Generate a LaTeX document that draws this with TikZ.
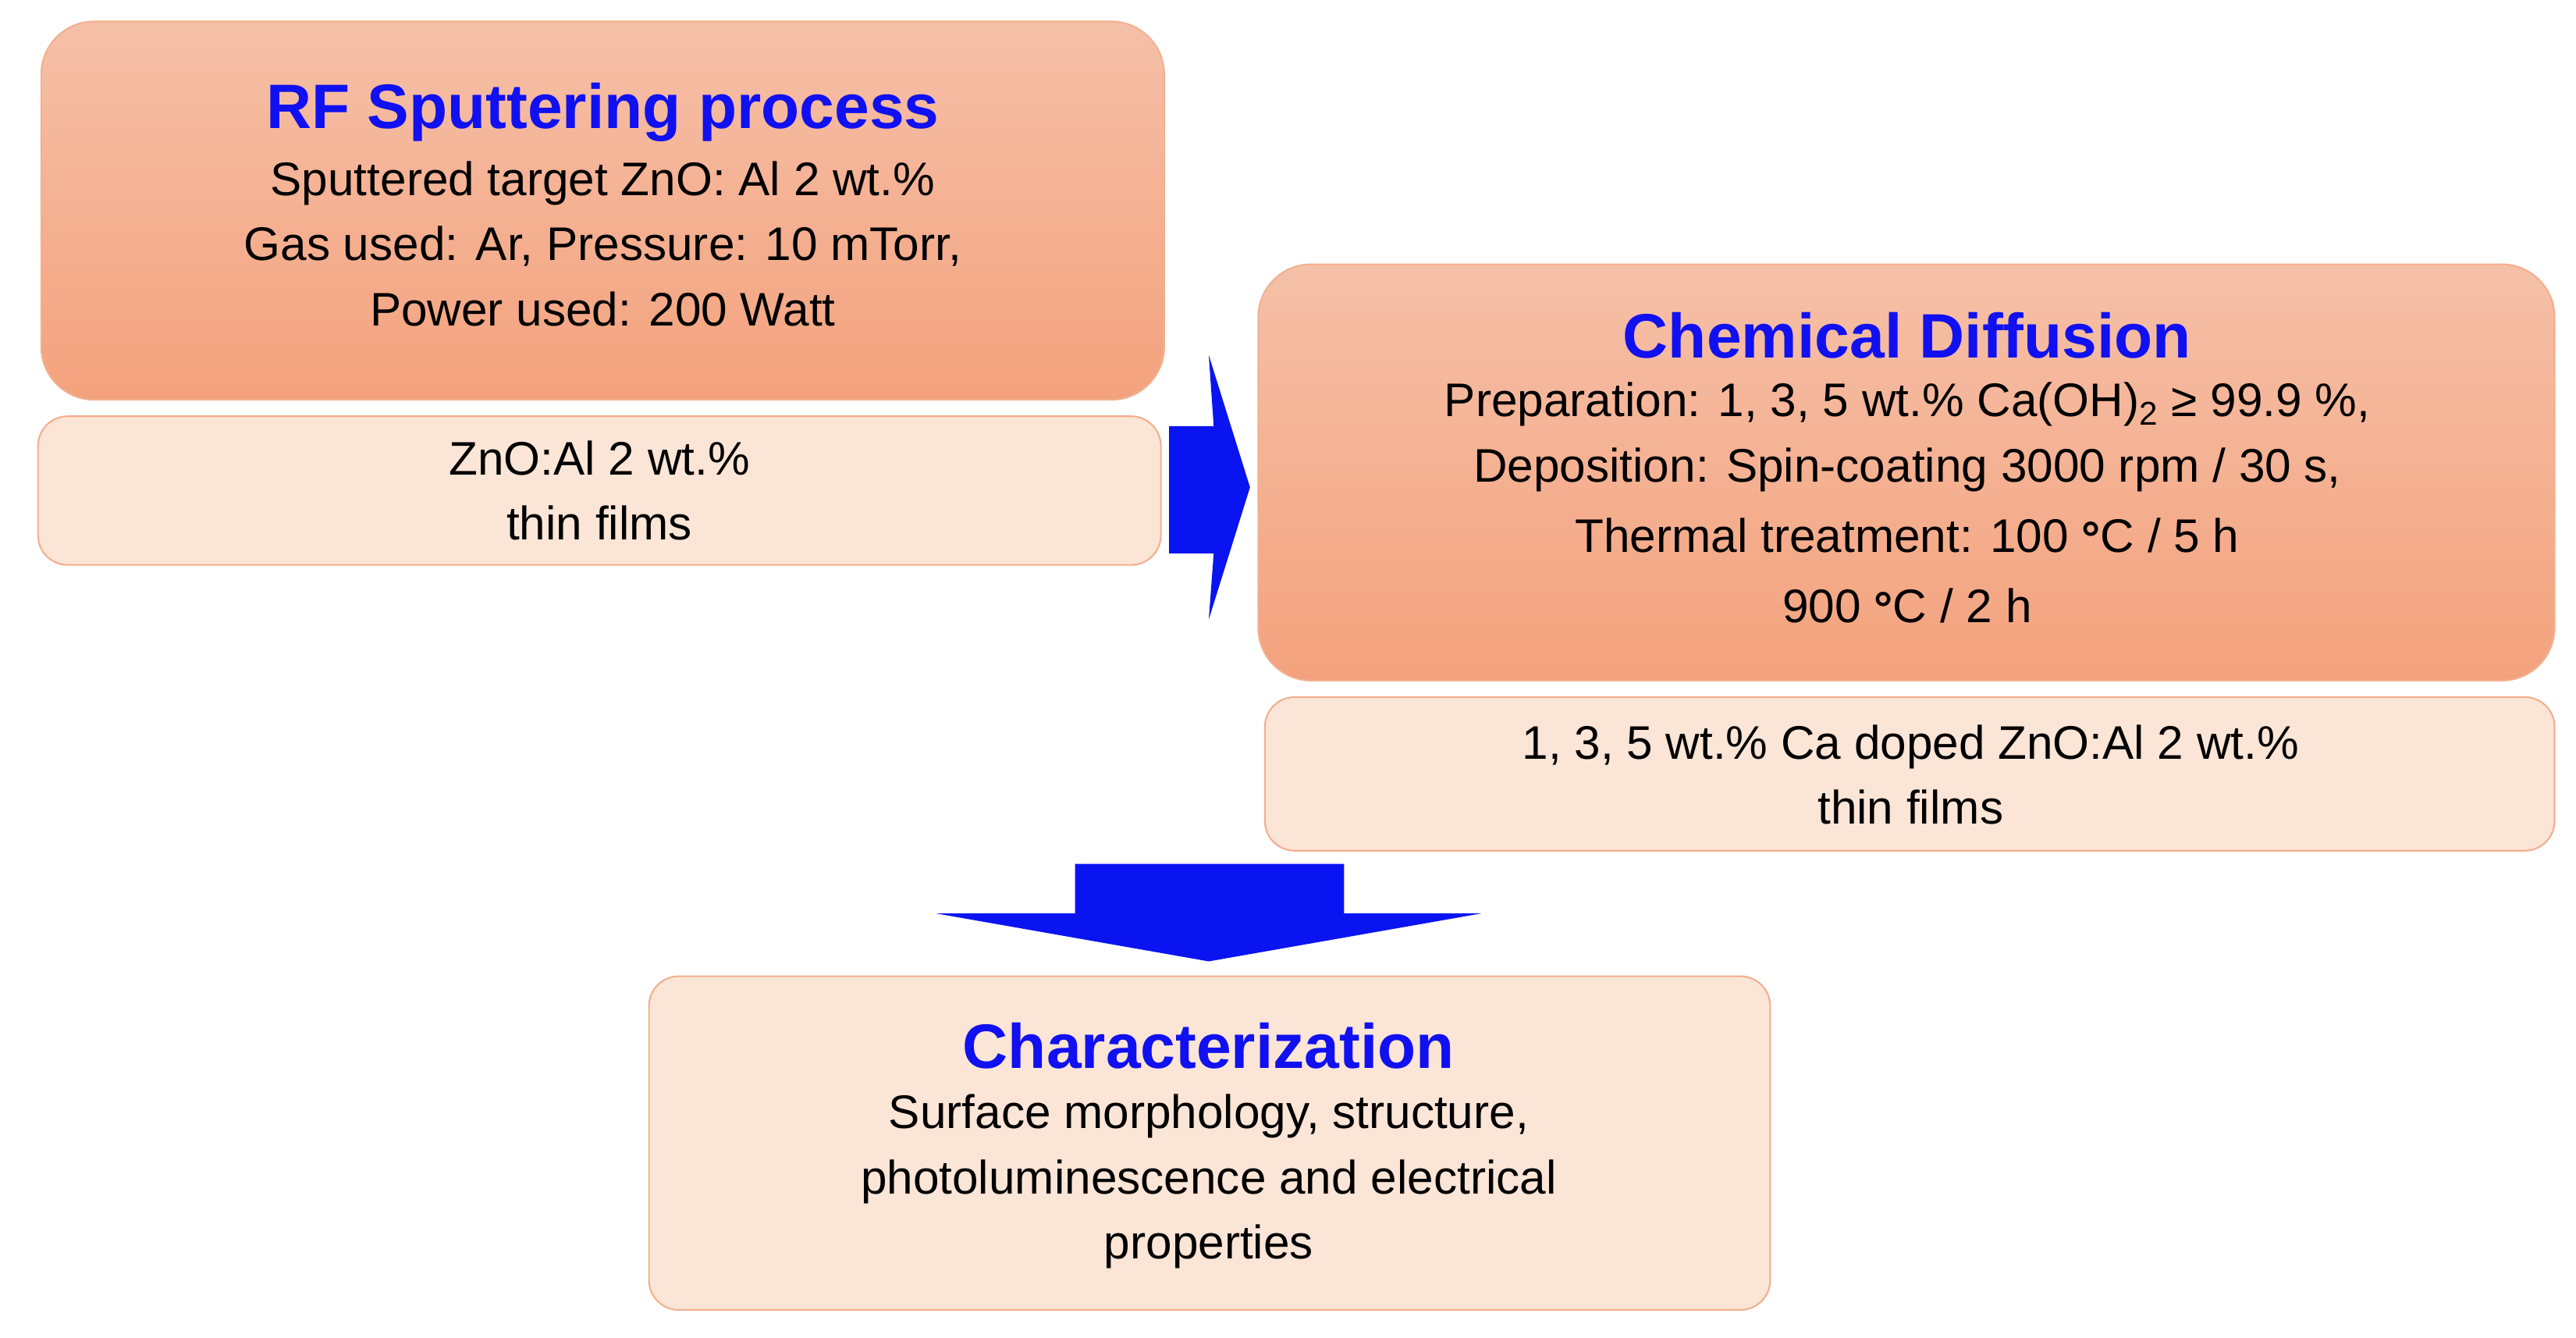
\documentclass[tikz,border=0pt]{standalone}
\usepackage{fontspec}
\setmainfont{Liberation Sans}
\usetikzlibrary{positioning}
\definecolor{topO}{HTML}{F5C0A8}
\definecolor{botO}{HTML}{F4A27D}
\definecolor{lightO}{HTML}{FBE5D6}
\definecolor{edgeO}{HTML}{F2B08F}
\definecolor{ttl}{HTML}{1010F0}
\definecolor{arr}{HTML}{0A14F0}
\tikzset{
  x=1pt,y=-1pt,
  big/.style={draw=edgeO,line width=1pt,rounded corners=32pt,top color=topO,bottom color=botO},
  small/.style={draw=edgeO,line width=1pt,rounded corners=18pt,fill=lightO},
  title/.style={font=\fontsize{38}{44}\selectfont\bfseries,text=ttl},
  body/.style={font=\fontsize{28.5}{39.5}\selectfont,align=center,text=black},
  arrowshape/.style={fill=arr,draw=none}
}
\newcommand{\degsym}{\raisebox{-0.1ex}{\textbf{°}}}
\begin{document}
\begin{tikzpicture}
\useasboundingbox (0,0) rectangle (1560,810);
% boxes
\draw[big] (25,13) rectangle (705,242);
\draw[small] (23,252) rectangle (703,342);
\draw[big] (762,160) rectangle (1547,412);
\draw[small] (766,422) rectangle (1547,515);
\draw[small] (393,591) rectangle (1072,793);
% arrows
\fill[arrowshape] (708,258) -- (735,258) -- (732,215) -- (757,295) -- (732,375) -- (735,335) -- (708,335) -- cycle;
\fill[arrowshape] (651,523) -- (814,523) -- (814,553) -- (897,553) -- (732,582) -- (567,553) -- (651,553) -- cycle;
% texts
\node[title] (t1) at (365,68) {RF Sputtering process};
\node[body,anchor=north] (b1) at (365,94) {Sputtered target ZnO: Al 2 wt.\%\\Gas used: Ar, Pressure: 10 mTorr,\\Power used: 200 Watt};
\node[body] (z1) at (363,297) {ZnO:Al 2 wt.\%\\thin films};
\node[title] (t2) at (1155,203) {Chemical Diffusion};
\node[body,anchor=north] (b2) at (1155,228) {Preparation: 1, 3, 5 wt.\% Ca(OH)\textsubscript{2} ≥ 99.9 \%,\\Deposition: Spin-coating 3000 rpm / 30 s,\\[3pt]Thermal treatment: 100 \degsym C / 5 h\\[3pt]900 \degsym C / 2 h};
\node[body] (z2) at (1157,469) {1, 3, 5 wt.\% Ca doped ZnO:Al 2 wt.\%\\thin films};
\node[title] (t3) at (732,633) {Characterization};
\node[body,anchor=north] (b3) at (732,659) {Surface morphology, structure,\\photoluminescence and electrical\\properties};
\end{tikzpicture}
\end{document}
